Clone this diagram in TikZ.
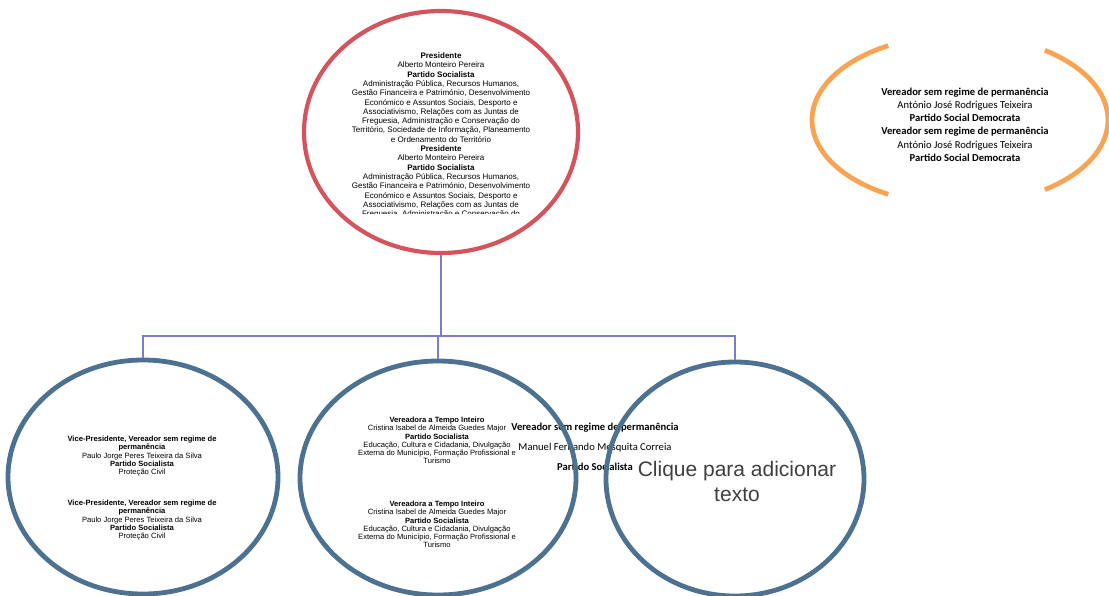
\documentclass[tikz,border=0pt]{standalone}
\usepackage{fontspec}
\setmainfont{Liberation Sans}
\newfontfamily\calfont{Carlito}
\usepackage{tikz}
\usetikzlibrary{shapes.geometric}
\usepackage{xcolor}
\definecolor{cred}{HTML}{D4535C}
\definecolor{cblue}{HTML}{4D7190}
\definecolor{corange}{HTML}{F8A453}
\definecolor{clink}{HTML}{7C7CC9}
\definecolor{cgray}{HTML}{3F3F3F}
\tikzset{
  ring/.style     = {draw, ellipse, inner sep=0pt, line width=4.8pt},
  redring/.style  = {ring, cred, line width=4.2pt},
  bluering/.style = {ring, cblue},
  link/.style     = {clink, line width=1.1pt},
  memtext/.style  = {align=center, inner sep=0pt, anchor=north,
                     font=\fontsize{7.6}{8.2}\selectfont},
  calitext/.style = {align=center, inner sep=0pt, anchor=north},
}

\begin{document}
\begin{tikzpicture}[x=1pt,y=-1pt]
\useasboundingbox (0,0) rectangle (1109,595);
\clip (0,0) rectangle (1109,595);
% overflow text sits under the rings
\node[calitext,font=\calfont\fontsize{10.6}{20}\selectfont] (extra) at (595,423)
  {\textbf{Vereador sem regime de permanência}\\
   Manuel Fernando Mesquita Correia\\
   \textbf{Partido Socialista}};
% president
\node[redring, minimum width=274pt, minimum height=242pt] (pres) at (441,132) {};
\begin{scope}
\clip (300,40) rectangle (580,213);
\node[memtext,font=\fontsize{8}{9.3}\selectfont] (prestext) at (441,52.5)
  {\textbf{Presidente}\\
   Alberto Monteiro Pereira\\
   \textbf{Partido Socialista}\\
   Administração Pública, Recursos Humanos,\\
   Gestão Financeira e Património, Desenvolvimento\\
   Económico e Assuntos Sociais, Desporto e\\
   Associativismo, Relações com as Juntas de\\
   Freguesia, Administração e Conservação do\\
   Território, Sociedade de Informação, Planeamento\\
   e Ordenamento do Território\\
   \textbf{Presidente}\\
   Alberto Monteiro Pereira\\
   \textbf{Partido Socialista}\\
   Administração Pública, Recursos Humanos,\\
   Gestão Financeira e Património, Desenvolvimento\\
   Económico e Assuntos Sociais, Desporto e\\
   Associativismo, Relações com as Juntas de\\
   Freguesia, Administração e Conservação do};
\end{scope}
% opposition (ring cut on both sides)
\node[inner sep=0pt, minimum width=296pt, minimum height=170pt] (psd) at (960,120) {};
\draw[corange, line width=4.8pt] (psd.center) ++(119:148 and 85) arc[start angle=119, end angle=241, x radius=148, y radius=85];
\draw[corange, line width=4.8pt] (psd.center) ++(-55:148 and 85) arc[start angle=-55, end angle=55, x radius=148, y radius=85];
\node[calitext,font=\calfont\fontsize{10.6}{13.1}\selectfont] (psdtext) at (965,88)
  {\textbf{Vereador sem regime de permanência}\\
   António José Rodrigues Teixeira\\
   \textbf{Partido Social Democrata}\\
   \textbf{Vereador sem regime de permanência}\\
   António José Rodrigues Teixeira\\
   \textbf{Partido Social Democrata}};
% second row
\node[bluering, minimum width=270pt, minimum height=234pt] (vice) at (143,477) {};
\node[bluering, minimum width=276pt, minimum height=234pt] (vtempo) at (438,478) {};
\node[bluering, minimum width=258pt, minimum height=234pt] (vnovo) at (735,479) {};
\node[memtext] (viceA) at (142,436)
  {\textbf{Vice-Presidente, Vereador sem regime de}\\
   \textbf{permanência}\\
   Paulo Jorge Peres Teixeira da Silva\\
   \textbf{Partido Socialista}\\
   Proteção Civil};
\node[memtext] (viceB) at (142,500)
  {\textbf{Vice-Presidente, Vereador sem regime de}\\
   \textbf{permanência}\\
   Paulo Jorge Peres Teixeira da Silva\\
   \textbf{Partido Socialista}\\
   Proteção Civil};
\node[memtext] (vtempoA) at (437,417)
  {\textbf{Vereadora a Tempo Inteiro}\\
   Cristina Isabel de Almeida Guedes Major\\
   \textbf{Partido Socialista}\\
   Educação, Cultura e Cidadania, Divulgação\\
   Externa do Município, Formação Profissional e\\
   Turismo};
\node[memtext] (vtempoB) at (437,501)
  {\textbf{Vereadora a Tempo Inteiro}\\
   Cristina Isabel de Almeida Guedes Major\\
   \textbf{Partido Socialista}\\
   Educação, Cultura e Cidadania, Divulgação\\
   Externa do Município, Formação Profissional e\\
   Turismo};
\node[align=center, inner sep=0pt, text=cgray, font=\fontsize{21}{25}\selectfont] (vnovotext) at (737,481)
  {Clique para adicionar\\texto};
% tree lines
\coordinate (bus) at (441,336);
\draw[link] (pres.south) -- (bus);
\draw[link] (bus) -| (vice.north);
\draw[link] (bus) -| (vtempo.north);
\draw[link] (bus) -| (vnovo.north);
\end{tikzpicture}
\end{document}
